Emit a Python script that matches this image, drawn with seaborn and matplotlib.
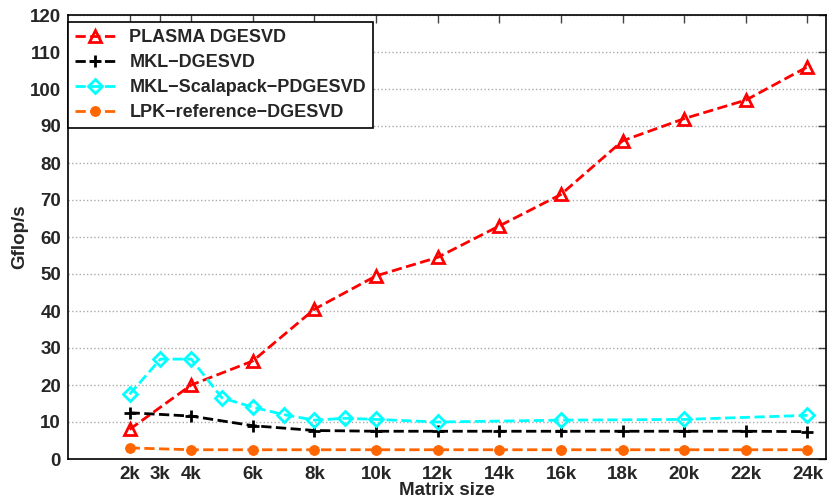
import numpy as np
import pandas as pd
import seaborn as sns
import matplotlib.pyplot as plt

# Values (Gflop/s vs matrix size)
plasma_n = [2000, 4000, 6000, 8000, 10000, 12000, 14000, 16000, 18000, 20000, 22000, 24000]
plasma_gf = [8.0, 20.0, 26.5, 40.5, 49.5, 54.5, 63.0, 71.5, 86.0, 92.0, 97.0, 106.0]

mkl_n = [2000, 4000, 6000, 8000, 10000, 12000, 14000, 16000, 18000, 20000, 22000, 24000]
mkl_gf = [12.5, 11.6, 9.0, 7.7, 7.5, 7.5, 7.5, 7.5, 7.5, 7.5, 7.5, 7.4]

scal_n = [2000, 3000, 4000, 5000, 6000, 7000, 8000, 9000, 10000, 12000, 16000, 20000, 24000]
scal_gf = [17.5, 27.0, 27.0, 16.5, 14.0, 12.0, 10.5, 11.0, 10.7, 10.0, 10.5, 10.7, 11.8]

lpk_n = [2000, 4000, 6000, 8000, 10000, 12000, 14000, 16000, 18000, 20000, 22000, 24000]
lpk_gf = [3.0, 2.5, 2.5, 2.5, 2.5, 2.5, 2.5, 2.5, 2.5, 2.5, 2.5, 2.5]

xtick_pos = [2000, 3000, 4000, 6000, 8000, 10000, 12000, 14000, 16000, 18000, 20000, 22000, 24000]
xtick_lab = ['2k', '3k', '4k', '6k', '8k', '10k', '12k', '14k', '16k', '18k', '20k', '22k', '24k']

sns.set_style('white')
plt.rcParams['font.family'] = ['Liberation Sans', 'DejaVu Sans']
plt.rcParams['font.weight'] = 'bold'

fig = plt.figure(figsize=(8.36, 5.0), dpi=100)
ax = fig.add_axes([0.0813, 0.082, 0.9067, 0.888])

sns.lineplot(x=plasma_n, y=plasma_gf, ax=ax, color='#ff0000', linestyle='--', lw=2,
             marker='^', markersize=8, markerfacecolor='none', markeredgecolor='#ff0000',
             markeredgewidth=2, label='PLASMA DGESVD')
sns.lineplot(x=mkl_n, y=mkl_gf, ax=ax, color='black', linestyle='--', lw=2,
             marker='+', markersize=8, markeredgecolor='black', markeredgewidth=2,
             label='MKL\u2212DGESVD')
sns.lineplot(x=scal_n, y=scal_gf, ax=ax, color='#00ffff', linestyle='--', lw=2,
             marker='D', markersize=7, markerfacecolor='none', markeredgecolor='#00ffff',
             markeredgewidth=2, label='MKL\u2212Scalapack\u2212PDGESVD')
sns.lineplot(x=lpk_n, y=lpk_gf, ax=ax, color='#ff6600', linestyle='--', lw=2,
             marker='o', markersize=7, markerfacecolor='#ff6600', markeredgecolor='#ff6600',
             label='LPK\u2212reference\u2212DGESVD')

ax.set_xlim(0, 24600)
ax.set_ylim(0, 120)
ax.set_xticks(xtick_pos)
ax.set_xticklabels(xtick_lab)
ax.set_yticks(np.arange(0, 121, 10))
ax.tick_params(direction='in', length=6, width=1, top=True, right=True,
               labelsize=13.5, pad=5, color='#444444')
for lab in ax.get_xticklabels() + ax.get_yticklabels():
    lab.set_fontweight('bold')

ax.yaxis.grid(True, linestyle=':', color='#aaaaaa', lw=1)
ax.xaxis.grid(False)
for sp in ax.spines.values():
    sp.set_color('black')
    sp.set_linewidth(1.2)

ax.set_xlabel('Matrix size', fontsize=13.5, fontweight='bold', labelpad=-1)
ax.set_ylabel('Gflop/s', fontsize=13.5, fontweight='bold', labelpad=1)

leg = ax.legend(loc='upper left', bbox_to_anchor=(0.0, 0.985), fontsize=13,
                frameon=True, fancybox=False, framealpha=1, borderaxespad=0,
                handlelength=2.2, borderpad=0.4, labelspacing=0.45)
leg.get_frame().set_edgecolor('black')
leg.get_frame().set_linewidth(1.2)
for t in leg.get_texts():
    t.set_fontweight('bold')

fig.savefig('out.png', dpi=100)
